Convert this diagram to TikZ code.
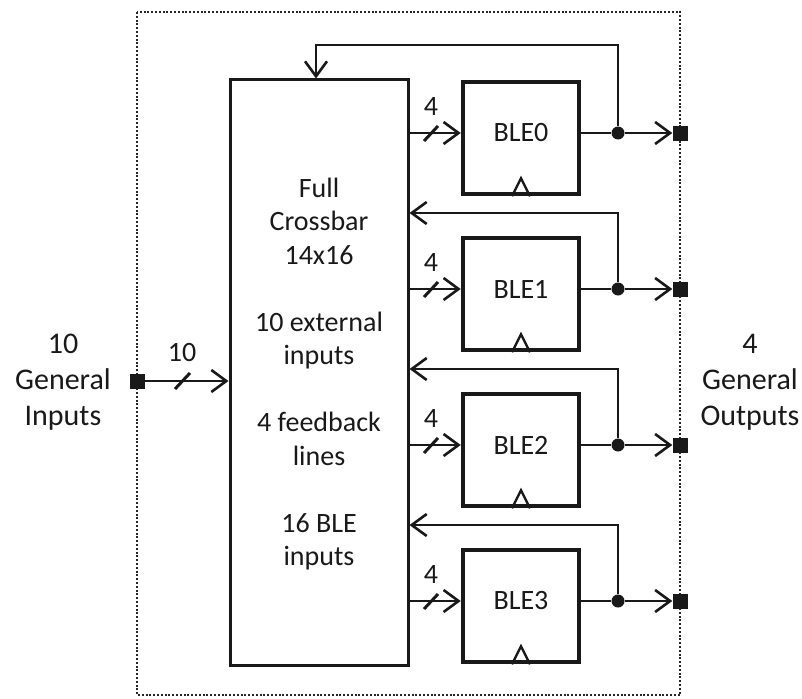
\documentclass[tikz,border=0pt]{standalone}
\usepackage{fontspec}
\setmainfont{Carlito}
\usetikzlibrary{arrows.meta}
\begin{document}
\begin{tikzpicture}[x=1pt,y=-1pt,
  wire/.style={line width=2.6pt, draw=black!90},
  arr/.style={wire, -{Straight Barb[length=15pt,width=22pt,line width=2.6pt]}},
  busmark/.style={line width=3pt, draw=black!90},
  blebox/.style={draw=black!90, line width=4.5pt, minimum width=116pt, minimum height=112pt, inner sep=0pt},
  xbar/.style={draw=black!90, line width=3pt, minimum width=178pt, minimum height=585pt, inner sep=0pt},
  port/.style={fill=black!90, minimum size=15pt, inner sep=0pt},
  junction/.style={circle, fill=black!90, minimum size=13pt, inner sep=0pt},
  lbl/.style={font=\fontsize{28}{34}\selectfont, text=black!90, align=center},
]
\useasboundingbox (0,0) rectangle (802,698);

% dotted outline of the logic cluster
\draw[line width=2.6pt, black!85, dash pattern=on 2pt off 1.8pt] (137,12) rectangle (680,695);

% crossbar
\node[xbar] (xbar) at (319,372.5) {};
\node[lbl, font=\fontsize{28}{33.5}\selectfont] (xtext) at (319,374)
  {Full\\Crossbar\\14x16\\[33.5pt]10 external\\inputs\\[33.5pt]4 feedback\\lines\\[33.5pt]16 BLE\\inputs};

% side labels
\node[lbl, font=\fontsize{30}{36}\selectfont] (intext) at (63,382) {10\\General\\Inputs};
\node[lbl, font=\fontsize{30}{36}\selectfont] (outtext) at (750,382) {4\\General\\Outputs};

% general input
\node[port] (inport) at (137,381) {};
\draw[arr] (inport) -- (xbar.west |- inport);
\draw[busmark] (175,389) -- (190,373);
\node[lbl] (inwidth) at (182,353) {10};

% BLEs, one per row
\foreach \i/\y in {0/133, 1/289, 2/445, 3/601} {
  \node[blebox, label={[yshift=5pt, lbl]center:BLE\i}] (ble\i) at (521,\y+5) {};
  \coordinate (pin\i) at (xbar.east |- 0,\y);
  \node[junction] (dot\i) at (618,\y) {};
  \node[port] (out\i) at (680,\y) {};
  % 4-bit input bus
  \draw[arr] (pin\i) -- (ble\i.west |- pin\i);
  \draw[busmark] (424,\y+8) -- (438,\y-7);
  \node[lbl] (w\i) at (431,\y-26) {4};
  % output
  \draw[wire] (ble\i.east |- pin\i) -- (dot\i);
  \draw[arr] (dot\i) -- (out\i);
  % clock input
  \draw[line width=2.4pt, black!90, line join=miter] ([xshift=-9pt]ble\i.south) -- ([yshift=18pt]ble\i.south) -- ([xshift=9pt]ble\i.south);
}

% feedback lines
\coordinate (fbtop) at (316,45);
\draw[arr] (dot0) |- (fbtop) -- (xbar.north -| fbtop);
\foreach \i/\y in {1/213, 2/369, 3/525} {
  \coordinate (fb\i) at (618,\y);
  \draw[arr] (dot\i) -- (fb\i) -- (xbar.east |- fb\i);
}
\end{tikzpicture}
\end{document}
